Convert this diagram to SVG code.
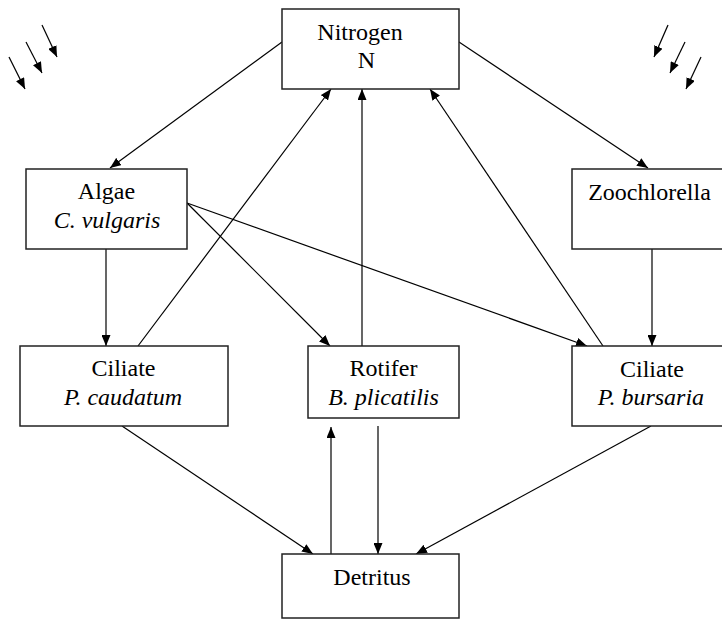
<svg xmlns="http://www.w3.org/2000/svg" width="722" height="620" viewBox="0 0 722 620">
<defs>
<marker id="ah" markerUnits="userSpaceOnUse" markerWidth="11" markerHeight="9" refX="11" refY="4.5" orient="auto">
<path d="M0,0 L11,4.5 L0,9 z" fill="#000"/>
</marker>
<style>
.box{fill:#fff;stroke:#222;stroke-width:1.5}
.t{font-size:24px;fill:#000;text-anchor:middle}
.i{font-style:italic}
.c line{stroke:#000;stroke-width:1.2;marker-end:url(#ah)}
</style>
</defs>
<rect width="722" height="620" fill="#fff"/>
<g class="c" id="connectors">
<line x1="282" y1="42" x2="110" y2="168"/>
<line x1="459" y1="42" x2="648" y2="168"/>
<line x1="138" y1="346" x2="331" y2="89"/>
<line x1="362" y1="346" x2="362" y2="89"/>
<line x1="603" y1="346" x2="430" y2="89"/>
<line x1="106" y1="249" x2="106" y2="346"/>
<line x1="187" y1="203" x2="330" y2="346"/>
<line x1="187" y1="203" x2="587" y2="346"/>
<line x1="652" y1="249" x2="652" y2="346"/>
<line x1="122" y1="426" x2="313" y2="554"/>
<line x1="331" y1="554" x2="331" y2="427"/>
<line x1="378" y1="426" x2="378" y2="554"/>
<line x1="651" y1="426" x2="416" y2="554"/>
<line x1="42" y1="25" x2="57" y2="57"/>
<line x1="26" y1="42" x2="42" y2="73"/>
<line x1="9" y1="57" x2="25" y2="89"/>
<line x1="668" y1="25" x2="654" y2="57"/>
<line x1="685" y1="42" x2="670" y2="73"/>
<line x1="701" y1="57" x2="686" y2="89"/>
</g>
<g font-family="Liberation Serif, Times New Roman, serif">
<g id="nitrogen">
<rect class="box" x="282" y="9" width="177" height="80"/>
<text class="t" x="360" y="40">Nitrogen</text>
<text class="t" x="366.5" y="68">N</text>
</g>
<g id="algae">
<rect class="box" x="26" y="169" width="161" height="80"/>
<text class="t" x="106.5" y="199">Algae</text>
<text class="t i" x="107" y="228">C. vulgaris</text>
</g>
<g id="zoochlorella">
<rect class="box" x="572" y="169" width="160" height="80"/>
<text class="t" x="649.5" y="200">Zoochlorella</text>
</g>
<g id="caudatum">
<rect class="box" x="20" y="346" width="208" height="80"/>
<text class="t" x="123.5" y="376">Ciliate</text>
<text class="t i" x="123" y="405">P. caudatum</text>
</g>
<g id="rotifer">
<rect class="box" x="308" y="346" width="151" height="72"/>
<text class="t" x="383.5" y="376">Rotifer</text>
<text class="t i" x="383.5" y="405">B. plicatilis</text>
</g>
<g id="bursaria">
<rect class="box" x="572" y="346" width="160" height="80"/>
<text class="t" x="652" y="377">Ciliate</text>
<text class="t i" x="651" y="405">P. bursaria</text>
</g>
<g id="detritus">
<rect class="box" x="282" y="554" width="177" height="64"/>
<text class="t" x="372" y="585">Detritus</text>
</g>
</g>
</svg>
